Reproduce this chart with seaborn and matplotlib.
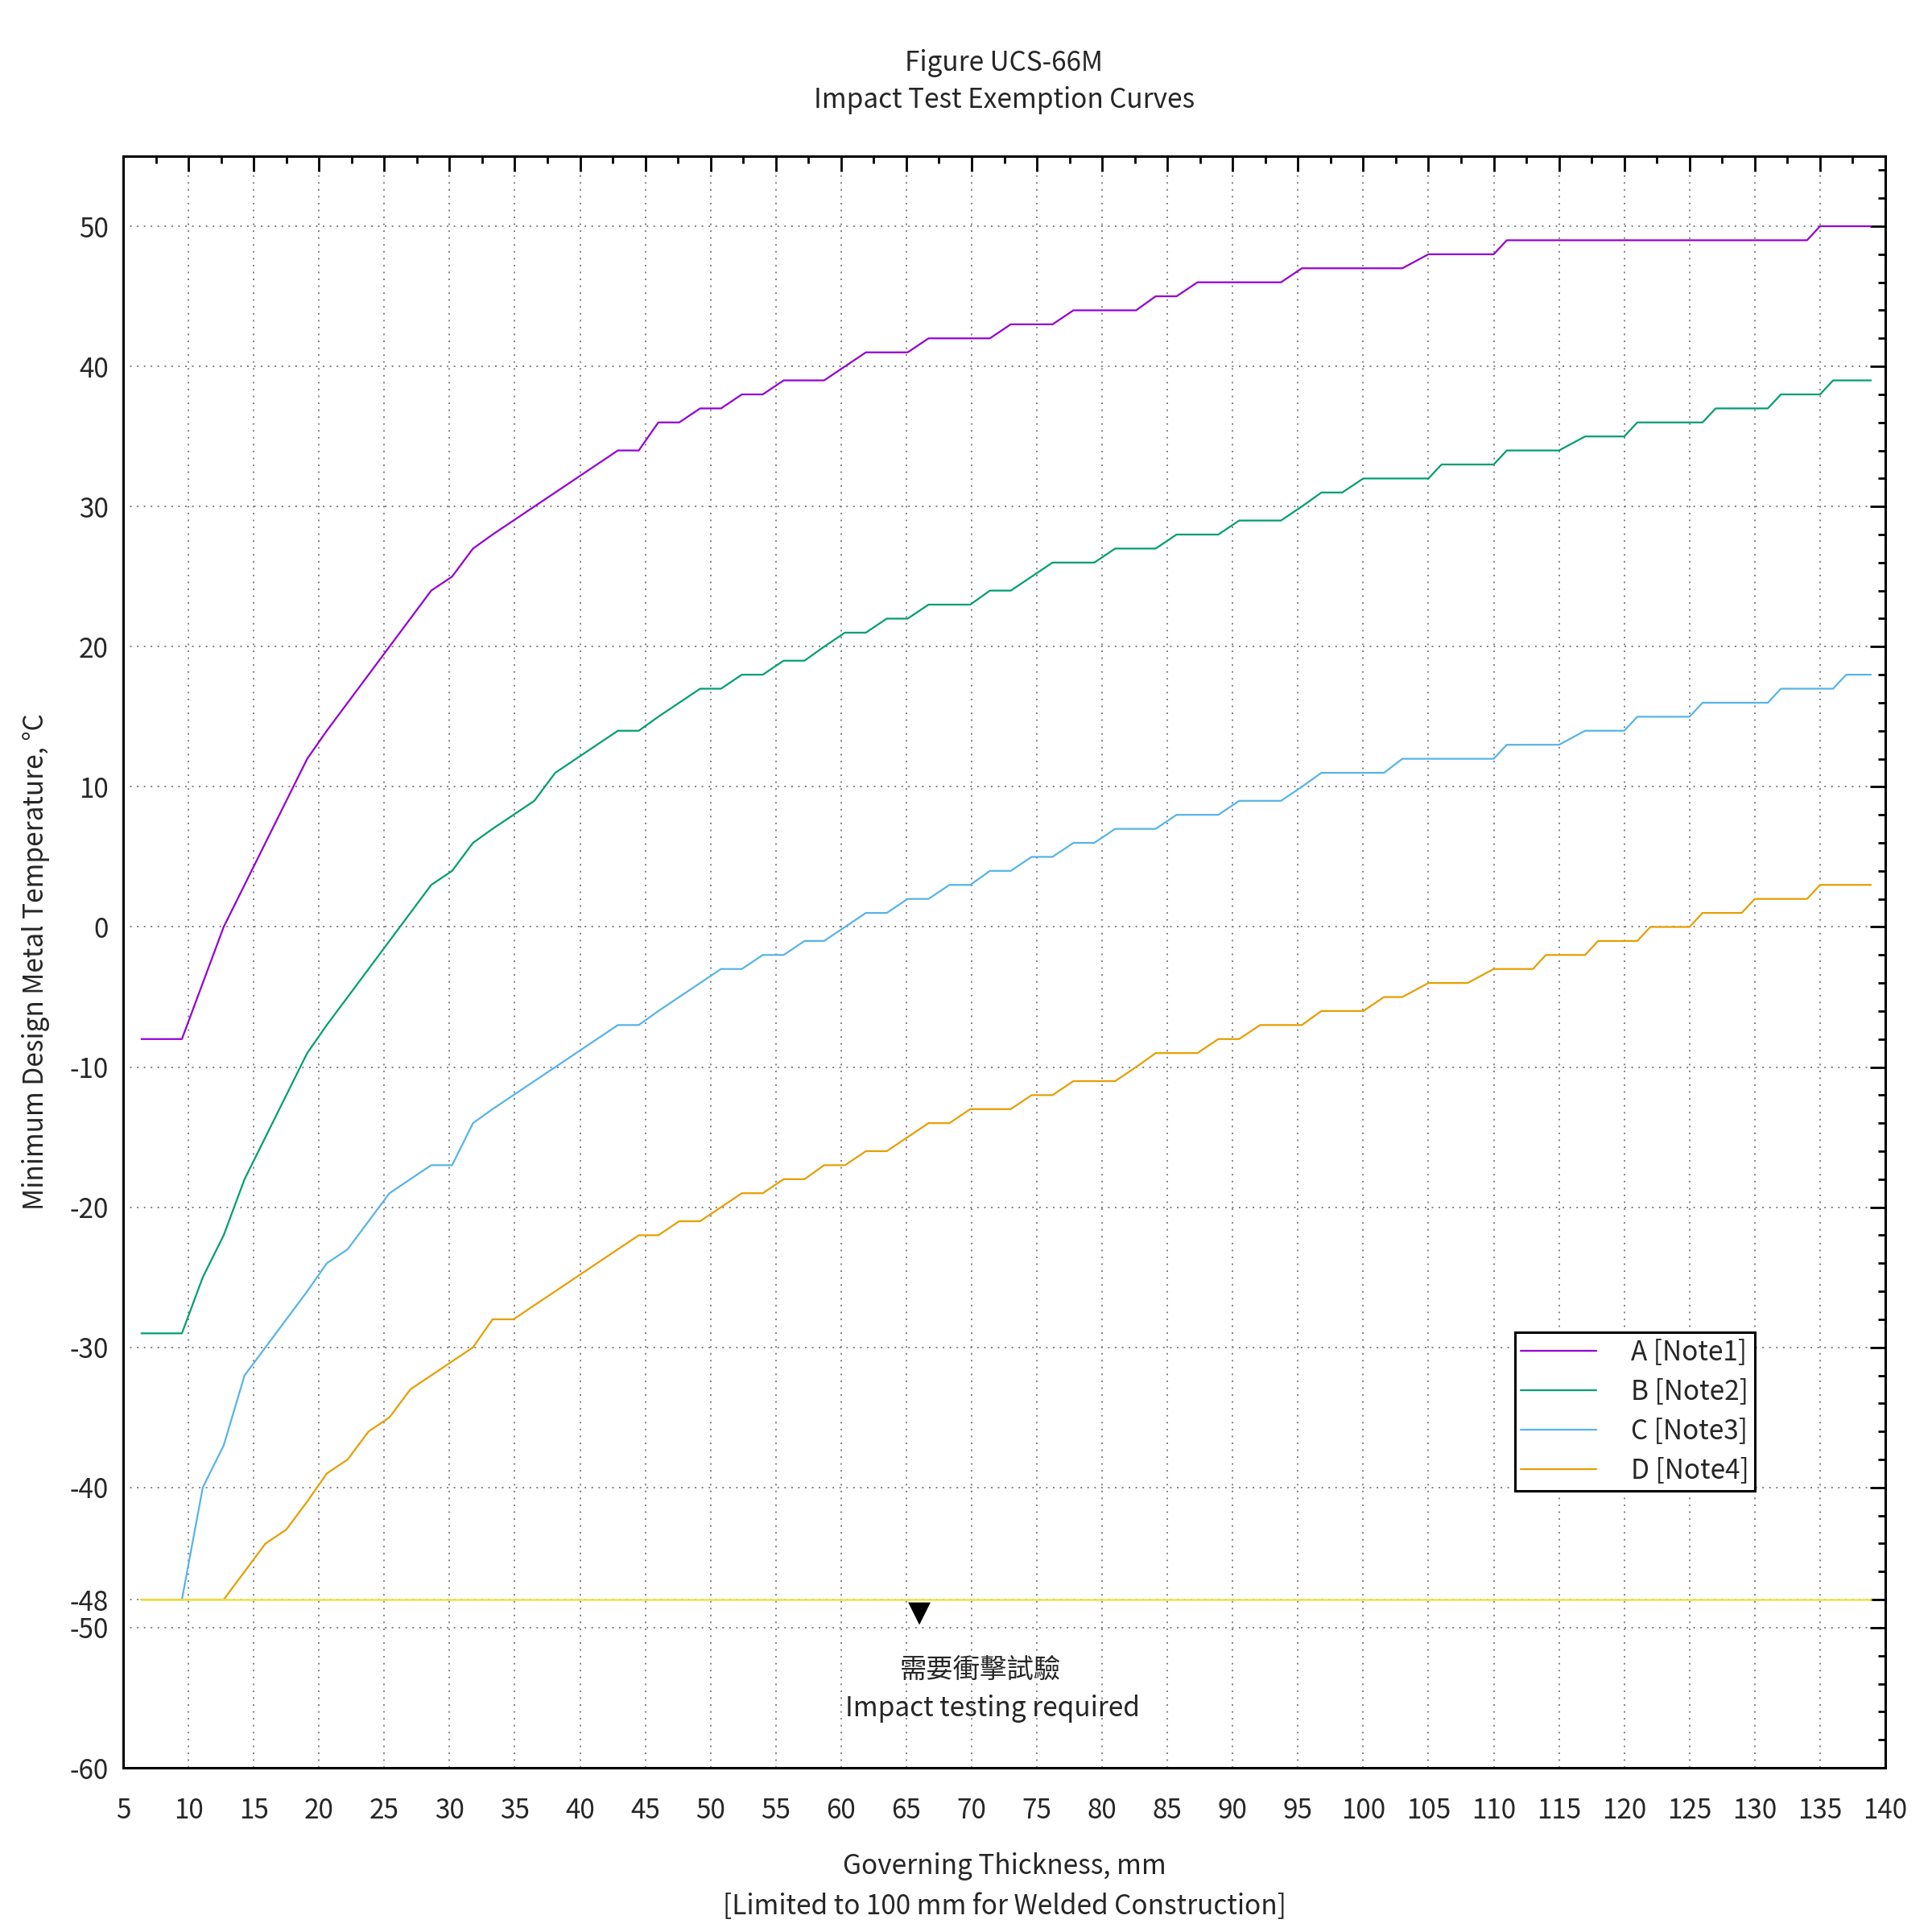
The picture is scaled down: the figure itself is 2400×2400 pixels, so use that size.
import matplotlib
matplotlib.use("Agg")
import matplotlib.pyplot as plt
from matplotlib.lines import Line2D
from matplotlib.ticker import FixedLocator, MultipleLocator
import pandas as pd
import seaborn as sns

# ---------------- data ----------------
thick_A = [6.4, 9.5, 11.1, 12.7, 14.3, 15.9, 17.5, 19.1, 20.6, 22.2, 23.8, 25.4, 27.0, 28.6,
           30.2, 31.8, 33.3, 34.9, 36.5, 38.1, 39.7, 41.3, 42.9, 44.5, 46.0, 47.6, 49.2, 50.8,
           52.4, 54.0, 55.6, 57.2, 58.7, 60.3, 61.9, 63.5, 65.1, 66.7, 68.3, 69.9, 71.4, 73.0,
           74.6, 76.2, 77.8, 79.4, 81.0, 82.6, 84.1, 85.7, 87.3, 88.9, 90.5, 92.1, 93.7, 95.3,
           96.8, 98.4, 100.0, 103.0, 105.0, 110.0, 111.0, 134.0, 135.0, 138.9]
temp_A = [-8, -8, -4, 0, 3, 6, 9, 12, 14, 16, 18, 20, 22, 24,
          25, 27, 28, 29, 30, 31, 32, 33, 34, 34, 36, 36, 37, 37,
          38, 38, 39, 39, 39, 40, 41, 41, 41, 42, 42, 42, 42, 43,
          43, 43, 44, 44, 44, 44, 45, 45, 46, 46, 46, 46, 46, 47,
          47, 47, 47, 47, 48, 48, 49, 49, 50, 50]

thick_B = [6.4, 9.5, 11.1, 12.7, 14.3, 15.9, 17.5, 19.1, 20.6, 22.2, 23.8, 25.4, 27.0, 28.6,
           30.2, 31.8, 33.3, 34.9, 36.5, 38.1, 39.7, 41.3, 42.9, 44.5, 46.0, 47.6, 49.2, 50.8,
           52.4, 54.0, 55.6, 57.2, 58.7, 60.3, 61.9, 63.5, 65.1, 66.7, 68.3, 69.9, 71.4, 73.0,
           74.6, 76.2, 77.8, 79.4, 81.0, 82.6, 84.1, 85.7, 87.3, 88.9, 90.5, 92.1, 93.7, 95.3,
           96.8, 98.4, 100.0, 105.0, 106.0, 110.0, 111.0, 115.0, 117.0, 120.0, 121.0, 126.0,
           127.0, 131.0, 132.0, 135.0, 136.0, 138.9]
temp_B = [-29, -29, -25, -22, -18, -15, -12, -9, -7, -5, -3, -1, 1, 3,
          4, 6, 7, 8, 9, 11, 12, 13, 14, 14, 15, 16, 17, 17,
          18, 18, 19, 19, 20, 21, 21, 22, 22, 23, 23, 23, 24, 24,
          25, 26, 26, 26, 27, 27, 27, 28, 28, 28, 29, 29, 29, 30,
          31, 31, 32, 32, 33, 33, 34, 34, 35, 35, 36, 36,
          37, 37, 38, 38, 39, 39]

thick_C = [6.4, 9.5, 11.1, 12.7, 14.3, 15.9, 17.5, 19.1, 20.6, 22.2, 23.8, 25.4, 27.0, 28.6,
           30.2, 31.8, 33.3, 34.9, 36.5, 38.1, 39.7, 41.3, 42.9, 44.5, 46.0, 47.6, 49.2, 50.8,
           52.4, 54.0, 55.6, 57.2, 58.7, 60.3, 61.9, 63.5, 65.1, 66.7, 68.3, 69.9, 71.4, 73.0,
           74.6, 76.2, 77.8, 79.4, 81.0, 82.6, 84.1, 85.7, 87.3, 88.9, 90.5, 92.1, 93.7, 95.3,
           96.8, 98.4, 100.0, 101.6, 103.0, 110.0, 111.0, 115.0, 117.0, 120.0, 121.0, 125.0,
           126.0, 131.0, 132.0, 136.0, 137.0, 138.9]
temp_C = [-48, -48, -40, -37, -32, -30, -28, -26, -24, -23, -21, -19, -18, -17,
          -17, -14, -13, -12, -11, -10, -9, -8, -7, -7, -6, -5, -4, -3,
          -3, -2, -2, -1, -1, 0, 1, 1, 2, 2, 3, 3, 4, 4,
          5, 5, 6, 6, 7, 7, 7, 8, 8, 8, 9, 9, 9, 10,
          11, 11, 11, 11, 12, 12, 13, 13, 14, 14, 15, 15,
          16, 16, 17, 17, 18, 18]

thick_D = [6.4, 12.7, 14.3, 15.9, 17.5, 19.1, 20.6, 22.2, 23.8, 25.4, 27.0, 28.6,
           30.2, 31.8, 33.3, 34.9, 36.5, 38.1, 39.7, 41.3, 42.9, 44.5, 46.0, 47.6, 49.2, 50.8,
           52.4, 54.0, 55.6, 57.2, 58.7, 60.3, 61.9, 63.5, 65.1, 66.7, 68.3, 69.9, 71.4, 73.0,
           74.6, 76.2, 77.8, 79.4, 81.0, 82.6, 84.1, 85.7, 87.3, 88.9, 90.5, 92.1, 93.7, 95.3,
           96.8, 98.4, 100.0, 101.6, 103.0, 105.0, 108.0, 110.0, 113.0, 114.0, 117.0, 118.0,
           121.0, 122.0, 125.0, 126.0, 129.0, 130.0, 134.0, 135.0, 138.9]
temp_D = [-48, -48, -46, -44, -43, -41, -39, -38, -36, -35, -33, -32,
          -31, -30, -28, -28, -27, -26, -25, -24, -23, -22, -22, -21, -21, -20,
          -19, -19, -18, -18, -17, -17, -16, -16, -15, -14, -14, -13, -13, -13,
          -12, -12, -11, -11, -11, -10, -9, -9, -9, -8, -8, -7, -7, -7,
          -6, -6, -6, -5, -5, -4, -4, -3, -3, -2, -2, -1,
          -1, 0, 0, 1, 1, 2, 2, 3, 3]

limit_x = [6.4, 138.9]
limit_y = [-48, -48]

curve_labels = ["A [Note1]", "B [Note2]", "C [Note3]", "D [Note4]"]
curve_colors = ["#9400d3", "#009e73", "#56b4e9", "#e69f00"]
limit_color = "#f0e442"

x_ticks = list(range(5, 141, 5))
y_ticks = [-60, -50, -48, -40, -30, -20, -10, 0, 10, 20, 30, 40, 50]

marker_x = [66.0]
marker_y = [-49.0]

title_lines = ["Figure UCS-66M", "Impact Test Exemption Curves"]
x_label = "Governing Thickness, mm\n[Limited to 100 mm for Welded Construction]"
y_label = "Minimum Design Metal Temperature, °C"
note_zh = "需要衝擊試驗"
note_en = "Impact testing required"
note_zh_pos = (70.7, -53.0)
note_en_pos = (71.6, -55.8)

# ---------------- styling ----------------
sns.set_style("white")
plt.rcParams['font.family'] = ['Noto Sans CJK TC', 'DejaVu Sans']
plt.rcParams['axes.unicode_minus'] = False
FS = 12

fig = plt.figure(figsize=(12, 12), dpi=200)
ax = fig.add_axes([153 / 2400, 1 - 2196 / 2400, (2342 - 153) / 2400, (2196 - 194) / 2400])

frames = []
for xs, ys, lab in zip([thick_A, thick_B, thick_C, thick_D],
                       [temp_A, temp_B, temp_C, temp_D], curve_labels):
    frames.append(pd.DataFrame({"thickness": xs, "temperature": ys, "curve": lab}))
df = pd.concat(frames, ignore_index=True)

sns.lineplot(data=df, x="thickness", y="temperature", hue="curve",
             hue_order=curve_labels, palette=dict(zip(curve_labels, curve_colors)),
             estimator=None, sort=False, linewidth=0.8, legend=False, ax=ax)
sns.lineplot(x=limit_x, y=limit_y, color=limit_color, linewidth=0.9, ax=ax)
sns.scatterplot(x=marker_x, y=marker_y, marker="v", s=100, color="black",
                edgecolor="none", ax=ax, zorder=5)

ax.set_xlim(5, 140)
ax.set_ylim(-60, 55)
ax.xaxis.set_major_locator(FixedLocator(x_ticks))
ax.xaxis.set_minor_locator(MultipleLocator(2.5))
ax.yaxis.set_major_locator(FixedLocator(y_ticks))
ax.yaxis.set_minor_locator(MultipleLocator(2))
ax.set_xticklabels([str(v) for v in x_ticks], fontsize=FS)
ax.set_yticklabels([str(v) for v in y_ticks], fontsize=FS)

ax.tick_params(which="both", direction="in", top=True, right=True, color="black")
ax.tick_params(which="major", length=6.8, width=1.0)
ax.tick_params(which="minor", length=3.2, width=1.0)
ax.tick_params(axis="x", which="major", pad=13)
ax.tick_params(axis="y", which="major", pad=6.5)

for sp in ax.spines.values():
    sp.set_visible(True)
    sp.set_color("black")
    sp.set_linewidth(1.1)

ax.grid(which="major", color="#808080", linewidth=0.7, linestyle=(0, (1, 3.4)))
ax.set_axisbelow(True)

ax.set_xlabel(x_label, fontsize=FS, linespacing=1.55)
ax.xaxis.set_label_coords(0.5, -0.0525)
ax.set_ylabel(y_label, fontsize=FS)
ax.yaxis.set_label_coords(-0.0415, 0.5)

cx = (153 + 2342) / 2 / 2400
fig.text(cx, 1 - 78 / 2400, title_lines[0], ha="center", va="center", fontsize=FS)
fig.text(cx, 1 - 125 / 2400, title_lines[1], ha="center", va="center", fontsize=FS)

ax.text(*note_zh_pos, note_zh, ha="center", va="center", fontsize=FS)
ax.text(*note_en_pos, note_en, ha="center", va="center", fontsize=FS)

handles = [Line2D([], [], color=c, linewidth=0.8) for c in curve_colors]
leg = ax.legend(handles, curve_labels, loc="upper left", bbox_to_anchor=(0.7899, 0.2702),
                fontsize=FS, frameon=True, fancybox=False, framealpha=1,
                edgecolor="black", borderpad=0.22, handlelength=2.8,
                handletextpad=1.3, labelspacing=0.42, borderaxespad=0)
leg.get_frame().set_linewidth(1.1)

fig.savefig("out.png", dpi=200)
